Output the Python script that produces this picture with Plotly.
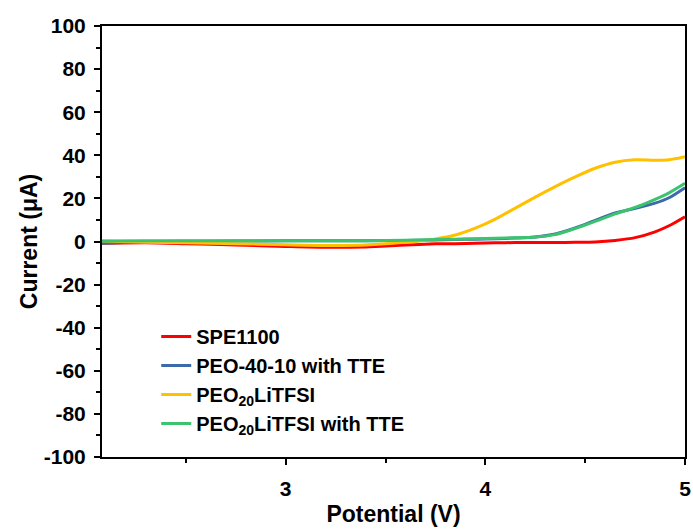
import plotly.graph_objects as go

potential = [2.08, 2.3, 2.5, 2.75, 3.0, 3.2, 3.4, 3.6, 3.75, 3.85, 3.95, 4.05, 4.15, 4.25,
             4.35, 4.45, 4.55, 4.65, 4.75, 4.85, 4.92, 5.0]
spe1100 = [-0.8, -0.6, -1.0, -1.6, -2.3, -2.7, -2.5, -1.6, -1.1, -1.0, -0.8, -0.6, -0.5, -0.5,
           -0.5, -0.4, -0.2, 0.5, 1.8, 4.5, 7.3, 11.5]
peo4010_tte = [-0.8, -0.1, 0.1, 0.2, 0.3, 0.3, 0.4, 0.5, 0.7, 0.9, 1.1, 1.3, 1.6, 2.1,
               3.5, 6.3, 9.8, 13.2, 15.4, 17.8, 20.3, 25.0]
peo20_litfsi = [0.2, -0.3, -0.6, -1.0, -1.5, -1.8, -1.6, -0.4, 1.2, 3.0, 6.2, 10.4, 15.5, 20.6,
                25.5, 30.0, 34.0, 36.8, 37.9, 37.7, 37.9, 39.3]
peo20_litfsi_tte = [0.2, 0.3, 0.3, 0.3, 0.3, 0.3, 0.4, 0.6, 0.9, 1.1, 1.3, 1.5, 1.7, 2.1,
                    3.2, 6.0, 9.3, 12.8, 15.8, 19.6, 22.6, 27.0]

names = ["SPE1100", "PEO-40-10 with TTE", "PEO<sub>20</sub>LiTFSI", "PEO<sub>20</sub>LiTFSI with TTE"]
colors = ["#FF0000", "#3D6AA8", "#FFC000", "#3CC36F"]
series = [spe1100, peo4010_tte, peo20_litfsi, peo20_litfsi_tte]

x_tickvals = [3, 4, 5]
x_ticktext = ["3", "4", "5"]
x_minor = [2.5, 3.5, 4.5]
y_tickvals = [100, 80, 60, 40, 20, 0, -20, -40, -60, -80, -100]
y_ticktext = ["100", "80", "60", "40", "20", "0", "-20", "-40", "-60", "-80", "-100"]
y_minor = [90, 70, 50, 30, 10, -10, -30, -50, -70, -90]

fig = go.Figure()
for name, color, ys in zip(names, colors, series):
    fig.add_trace(go.Scatter(x=potential, y=ys, mode="lines", name=name,
                             line=dict(color=color, width=3, shape="spline", smoothing=0.8)))

font_family = "Liberation Sans, Arial, sans-serif"
axis_common = dict(showline=True, linecolor="black", linewidth=2, mirror=True,
                   ticks="outside", ticklen=6, tickwidth=2, tickcolor="black",
                   showgrid=False, zeroline=False, automargin=False,
                   tickfont=dict(family=font_family, size=21, color="black", weight="bold"))

fig.update_layout(
    width=693, height=531,
    margin=dict(l=102, r=8, t=26, b=74),
    paper_bgcolor="white", plot_bgcolor="white",
    font=dict(family=font_family, color="black"),
    xaxis=dict(range=[2.08, 5.0], tickmode="array", tickvals=x_tickvals, ticktext=x_ticktext,
               minor=dict(ticks="outside", ticklen=4, tickwidth=2, tickcolor="black",
                          tickmode="array", tickvals=x_minor),
               ticklabelstandoff=6,
               title=dict(text="Potential (V)", font=dict(size=23, weight="bold"), standoff=7),
               **axis_common),
    yaxis=dict(range=[-100, 100], tickmode="array", tickvals=y_tickvals, ticktext=y_ticktext,
               minor=dict(ticks="outside", ticklen=4, tickwidth=2, tickcolor="black",
                          tickmode="array", tickvals=y_minor),
               ticklabelstandoff=4,
               title=dict(text="Current (μA)", font=dict(size=23, weight="bold"), standoff=0),
               **axis_common),
    legend=dict(x=0.093, y=0.325, xanchor="left", yanchor="top", bgcolor="rgba(0,0,0,0)",
                font=dict(family=font_family, size=20, color="black", weight="bold"),
                tracegroupgap=0),
    showlegend=True,
)

fig.write_html("out.html", config={"displayModeBar": False},
               post_script="document.body.style.margin='0';document.body.style.overflow='hidden';")
